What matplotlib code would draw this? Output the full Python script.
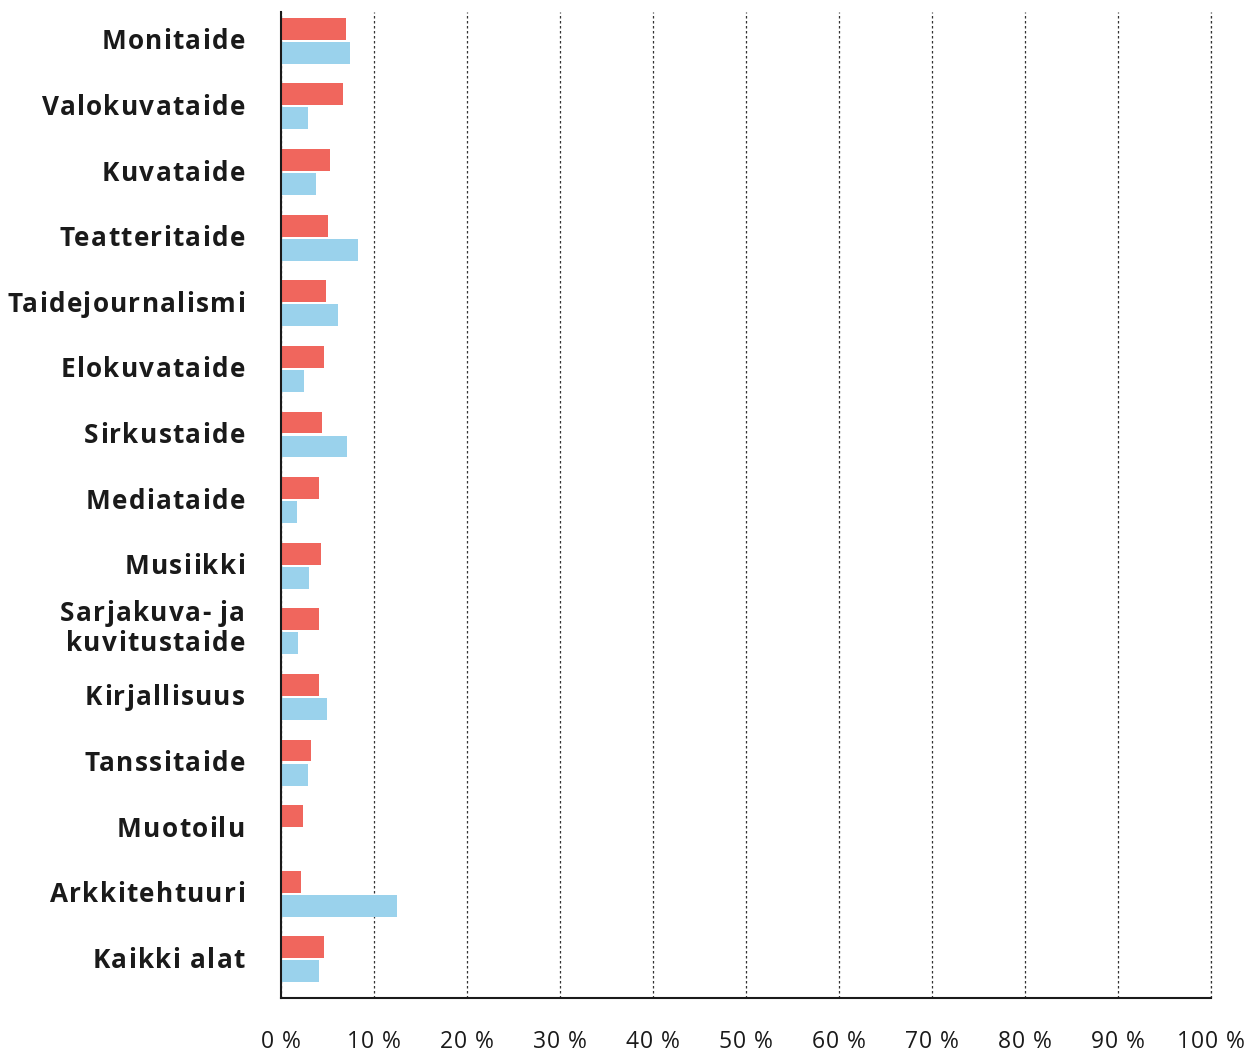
import matplotlib
matplotlib.use("Agg")
import matplotlib.pyplot as plt
import numpy as np
from matplotlib.font_manager import FontProperties
from matplotlib.transforms import IdentityTransform

categories = [
    "Monitaide", "Valokuvataide", "Kuvataide", "Teatteritaide", "Taidejournalismi",
    "Elokuvataide", "Sirkustaide", "Mediataide", "Musiikki",
    "Sarjakuva- ja\nkuvitustaide", "Kirjallisuus", "Tanssitaide", "Muotoilu",
    "Arkkitehtuuri", "Kaikki alat",
]
red_values = [7.0, 6.7, 5.3, 5.1, 4.9, 4.7, 4.4, 4.1, 4.3, 4.1, 4.1, 3.3, 2.4, 2.2, 4.6]
blue_values = [7.4, 2.9, 3.8, 8.3, 6.2, 2.5, 7.1, 1.7, 3.0, 1.85, 4.95, 2.9, 0.0, 12.5, 4.1]
xticks = list(range(0, 101, 10))
xtick_labels = [f"{t} %" for t in xticks]

RED = "#f0665d"
BLUE = "#9ad2ec"
INK = "#1a1a1a"
FAMILY = ["Open Sans", "DejaVu Sans"]

plt.rcParams["font.family"] = FAMILY

W, H = 1251, 1053
fig = plt.figure(figsize=(W / 100, H / 100), dpi=100, facecolor="white")
ax = fig.add_axes([0.2244, 0.0522, 0.968 - 0.2244, 0.9886 - 0.0522])

y = np.arange(len(categories))
h = 0.335
off = 0.183
ax.barh(y - off, red_values, height=h, color=RED, zorder=2)
ax.barh(y + off, blue_values, height=h, color=BLUE, zorder=2)

ax.set_xlim(0, 100)
ax.set_ylim(len(categories) - 1 + 0.59, -0.44)
ax.set_xticks(xticks)
ax.set_xticklabels([])
ax.set_yticks(y)
ax.set_yticklabels([])
ax.tick_params(length=0)

ax.grid(axis="x", linestyle=(0, (2, 2)), color="#333333", linewidth=0.9, zorder=0)
ax.axvline(100, linestyle=(0, (2, 2)), color="#333333", linewidth=0.9,
           zorder=0, clip_on=False)
for s in ("top", "right"):
    ax.spines[s].set_visible(False)
for s in ("left", "bottom"):
    ax.spines[s].set_color(INK)
    ax.spines[s].set_linewidth(1.5)

renderer = fig.canvas.get_renderer()


def spaced_text(s, x, y_base, ha, sp, prop):
    """Draw s char by char with extra letter spacing sp (pixels)."""
    def width(t):
        return renderer.get_text_width_height_descent(t, prop, ismath=False)[0]

    total = width(s) + (len(s) - 1) * sp
    start = x - total if ha == "right" else x - total / 2
    for k, ch in enumerate(s):
        if ch == " ":
            continue
        xk = start + width(s[:k + 1]) - width(ch) + k * sp
        fig.text(xk, y_base, ch, transform=IdentityTransform(), ha="left",
                 va="baseline", fontproperties=prop, color=INK)


# category labels (pixel coordinates, y measured up from the bottom)
label_prop = FontProperties(family=FAMILY, size=18.8, weight="bold")
for yi, lab in zip(y, categories):
    cy = ax.transData.transform((0, yi))[1]
    lines = lab.split("\n")
    if len(lines) == 1:
        spaced_text(lines[0], 245, cy - 8.5, "right", 1.3, label_prop)
    else:
        spaced_text(lines[0], 245, cy + 10.5, "right", 1.3, label_prop)
        spaced_text(lines[1], 245, cy - 19.5, "right", 1.3, label_prop)

# percentage tick labels
tick_prop = FontProperties(family=FAMILY, size=16.5)
for t, lab in zip(xticks, xtick_labels):
    px = ax.transData.transform((t, 0))[0]
    spaced_text(lab, px, H - 1047.5, "center", 0.9, tick_prop)

fig.savefig("out.png", dpi=100, facecolor="white")
